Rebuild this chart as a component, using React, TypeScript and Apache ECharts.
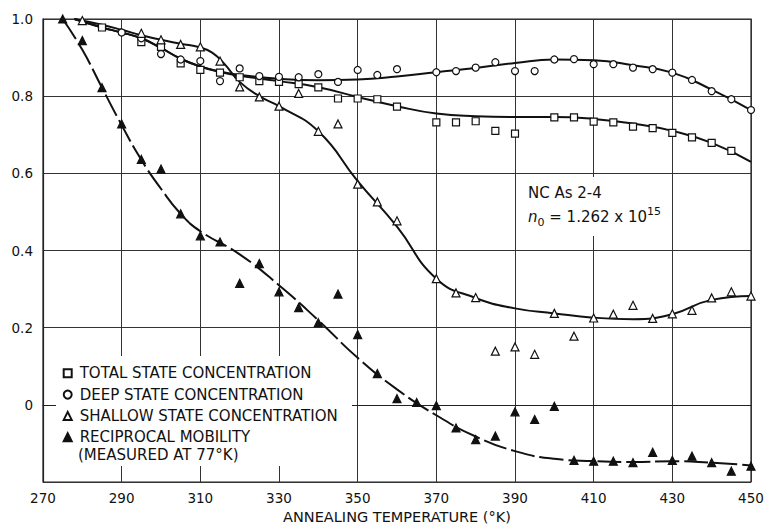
import React, { useEffect, useRef } from 'react';
import * as echarts from 'echarts';

// Annealing temperature axis (°K)
const xTicks = [270, 290, 310, 330, 350, 370, 390, 410, 430, 450];

// Measured points
const totalT = [285, 295, 300, 305, 310, 315, 320, 325, 330, 335, 340, 345, 350, 355, 360, 370, 375, 380, 385, 390, 400, 405, 410, 415, 420, 425, 430, 435, 440, 445];
const totalV = [0.978, 0.94, 0.928, 0.885, 0.868, 0.861, 0.849, 0.839, 0.837, 0.831, 0.823, 0.794, 0.794, 0.792, 0.773, 0.732, 0.732, 0.735, 0.71, 0.703, 0.745, 0.745, 0.734, 0.732, 0.721, 0.717, 0.705, 0.693, 0.679, 0.658];

const deepT = [290, 295, 300, 305, 310, 315, 320, 325, 330, 335, 340, 345, 350, 355, 360, 370, 375, 380, 385, 390, 395, 400, 405, 410, 415, 420, 425, 430, 435, 440, 445, 450];
const deepV = [0.965, 0.95, 0.909, 0.895, 0.891, 0.839, 0.872, 0.852, 0.85, 0.849, 0.857, 0.837, 0.868, 0.855, 0.87, 0.862, 0.865, 0.874, 0.888, 0.865, 0.865, 0.895, 0.896, 0.883, 0.883, 0.874, 0.87, 0.861, 0.842, 0.813, 0.792, 0.764];

const shallowT = [280, 295, 300, 305, 310, 315, 320, 325, 330, 335, 340, 345, 350, 355, 360, 370, 375, 380, 385, 390, 395, 400, 405, 410, 415, 420, 425, 430, 435, 440, 445, 450];
const shallowV = [0.996, 0.963, 0.946, 0.934, 0.928, 0.891, 0.824, 0.798, 0.774, 0.807, 0.709, 0.728, 0.572, 0.526, 0.477, 0.327, 0.29, 0.278, 0.139, 0.15, 0.131, 0.237, 0.178, 0.225, 0.235, 0.258, 0.224, 0.236, 0.245, 0.277, 0.293, 0.282];

const mobilityT = [275, 280, 285, 290, 295, 300, 305, 310, 315, 320, 325, 330, 335, 340, 345, 350, 355, 360, 365, 370, 375, 380, 385, 390, 395, 400, 405, 410, 415, 420, 425, 430, 435, 440, 445, 450];
const mobilityV = [1.0, 0.944, 0.822, 0.728, 0.636, 0.611, 0.495, 0.438, 0.422, 0.315, 0.366, 0.293, 0.252, 0.213, 0.287, 0.182, 0.081, 0.016, 0.006, -0.002, -0.06, -0.09, -0.081, -0.018, -0.038, -0.004, -0.144, -0.146, -0.146, -0.15, -0.123, -0.144, -0.133, -0.15, -0.172, -0.159];

// Fitted curves
const totalFitT = [278, 285, 290, 295, 300, 305, 310, 315, 320, 330, 340, 350, 360, 370, 380, 390, 400, 410, 420, 430, 440, 450];
const totalFitV = [1.0, 0.978, 0.965, 0.95, 0.925, 0.897, 0.877, 0.863, 0.853, 0.839, 0.823, 0.798, 0.774, 0.755, 0.748, 0.746, 0.746, 0.741, 0.729, 0.71, 0.679, 0.63];

const deepFitT = [278, 285, 290, 295, 300, 305, 310, 315, 320, 330, 340, 350, 360, 370, 380, 390, 400, 410, 420, 430, 440, 450];
const deepFitV = [1.0, 0.978, 0.965, 0.95, 0.925, 0.897, 0.877, 0.864, 0.855, 0.845, 0.841, 0.843, 0.851, 0.862, 0.873, 0.886, 0.895, 0.893, 0.88, 0.861, 0.817, 0.764];

const shallowFitT = [278, 285, 290, 295, 300, 305, 310, 313, 316, 320, 325, 330, 340, 350, 360, 370, 380, 390, 400, 410, 420, 430, 440, 450];
const shallowFitV = [1.0, 0.985, 0.972, 0.958, 0.946, 0.936, 0.926, 0.913, 0.885, 0.837, 0.8, 0.774, 0.709, 0.58, 0.462, 0.327, 0.277, 0.25, 0.237, 0.226, 0.222, 0.235, 0.272, 0.282];

const mobilityFitT = [275, 280, 285, 290, 295, 300, 305, 310, 320, 330, 340, 350, 360, 370, 380, 390, 400, 410, 420, 430, 440, 450];
const mobilityFitV = [1.0, 0.92, 0.822, 0.725, 0.635, 0.56, 0.495, 0.45, 0.39, 0.31, 0.219, 0.122, 0.04, -0.027, -0.082, -0.12, -0.14, -0.146, -0.148, -0.146, -0.15, -0.157];

const NAMES = {
  total: 'TOTAL STATE CONCENTRATION',
  deep: 'DEEP STATE CONCENTRATION',
  shallow: 'SHALLOW STATE CONCENTRATION',
  mobility: 'RECIPROCAL MOBILITY',
};

const INK = '#111';
const FONT = 'DejaVu Sans';

const pairs = (xs: number[], ys: number[]) => xs.map((x, i) => [x, ys[i]]);

const fitLine = (name: string, xs: number[], ys: number[], dashed = false) => ({
  name,
  type: 'line',
  data: pairs(xs, ys),
  showSymbol: false,
  symbol: 'none',
  smooth: 0.5,
  silent: true,
  z: 2,
  lineStyle: { color: INK, width: 2, type: dashed ? [24, 5] : 'solid' },
});

const points = (name: string, xs: number[], ys: number[], symbol: string, size: number, filled: boolean) => ({
  name,
  type: 'scatter',
  data: pairs(xs, ys),
  symbol,
  symbolSize: size,
  z: 3,
  itemStyle: {
    color: filled ? INK : '#fff',
    borderColor: INK,
    borderWidth: 1.2,
    opacity: 1,
  },
});

export default function App() {
  const ref = useRef<HTMLDivElement>(null);

  useEffect(() => {
    if (!ref.current) return;
    const chart = echarts.init(ref.current, undefined, { renderer: 'svg' });

    const option: any = {
      animation: false,
      backgroundColor: '#fff',
      textStyle: { fontFamily: FONT, color: INK },
      grid: {
        left: 43,
        right: 15,
        top: 19,
        bottom: 43,
        outerBoundsMode: 'none',
        containLabel: false,
        show: true,
        borderColor: '#222',
        borderWidth: 1.2,
        backgroundColor: 'transparent',
      },
      xAxis: {
        type: 'value',
        min: xTicks[0],
        max: xTicks[xTicks.length - 1],
        interval: 20,
        name: 'ANNEALING TEMPERATURE (°K)',
        nameLocation: 'middle',
        nameGap: 27,
        nameTextStyle: { fontFamily: FONT, fontSize: 14.5, color: INK },
        axisLine: { show: true, lineStyle: { color: '#222', width: 1.2 } },
        axisTick: { show: false },
        axisLabel: {
          fontFamily: FONT,
          fontSize: 13.5,
          color: INK,
          margin: 9,
          showMinLabel: true,
          showMaxLabel: true,
        },
        splitLine: { show: true, lineStyle: { color: '#333', width: 1 } },
      },
      yAxis: {
        type: 'value',
        min: -0.2,
        max: 1.0,
        interval: 0.2,
        axisLine: { show: true, lineStyle: { color: '#222', width: 1.2 } },
        axisTick: { show: false },
        axisLabel: {
          fontFamily: FONT,
          fontSize: 13.5,
          color: INK,
          margin: 10,
          formatter: (v: number) => (v < -0.01 ? '' : Math.abs(v) < 1e-9 ? '0' : v.toFixed(1)),
        },
        splitLine: { show: true, lineStyle: { color: '#333', width: 1 } },
      },
      legend: {
        data: [NAMES.total, NAMES.deep, NAMES.shallow, NAMES.mobility],
        orient: 'vertical',
        left: 62.7,
        top: 365.8,
        padding: 0,
        itemGap: 6.3,
        itemWidth: 8,
        itemHeight: 8,
        selectedMode: false,
        z: 5,
        textStyle: { fontFamily: FONT, fontSize: 15, color: INK, padding: [0, 0, 0, 3] },
      },
      graphic: {
        elements: [
          // white panel behind the key
          {
            type: 'rect',
            z: 1,
            silent: true,
            shape: { x: 56, y: 356, width: 296, height: 110 },
            style: { fill: '#fff' },
          },
          // white panel behind the sample note
          {
            type: 'rect',
            z: 1,
            silent: true,
            shape: { x: 521, y: 177, width: 146, height: 59 },
            style: { fill: '#fff' },
          },
          {
            type: 'text',
            z: 6,
            x: 78,
            y: 454.5,
            style: {
              text: '(MEASURED AT 77°K)',
              fontFamily: FONT,
              fontSize: 15,
              fill: INK,
              verticalAlign: 'middle',
            },
          },
          {
            type: 'text',
            z: 6,
            x: 528,
            y: 193,
            style: {
              text: 'NC As 2-4',
              fontFamily: FONT,
              fontSize: 15,
              fill: INK,
              verticalAlign: 'middle',
            },
          },
          {
            type: 'text',
            z: 6,
            x: 528,
            y: 217,
            style: {
              text: '{i|n}{sub|0}{b| = 1.262 x 10}{sup|15}',
              fontFamily: FONT,
              fontSize: 15,
              fill: INK,
              verticalAlign: 'middle',
              rich: {
                i: { fontFamily: FONT, fontSize: 15, fontStyle: 'italic', lineHeight: 22, verticalAlign: 'middle', fill: INK },
                b: { fontFamily: FONT, fontSize: 15, lineHeight: 22, verticalAlign: 'middle', fill: INK },
                sub: { fontFamily: FONT, fontSize: 11, lineHeight: 12, verticalAlign: 'bottom', fill: INK },
                sup: { fontFamily: FONT, fontSize: 11, lineHeight: 12, verticalAlign: 'top', fill: INK },
              },
            },
          },
        ],
      },
      series: [
        fitLine('total fit', totalFitT, totalFitV),
        fitLine('deep fit', deepFitT, deepFitV),
        fitLine('shallow fit', shallowFitT, shallowFitV),
        fitLine('mobility fit', mobilityFitT, mobilityFitV, true),
        points(NAMES.total, totalT, totalV, 'rect', 7, false),
        points(NAMES.deep, deepT, deepV, 'circle', 7, false),
        points(NAMES.shallow, shallowT, shallowV, 'triangle', 8, false),
        points(NAMES.mobility, mobilityT, mobilityV, 'triangle', 8, true),
      ],
    };

    chart.setOption(option);
    return () => chart.dispose();
  }, []);

  return (
    <div
      ref={ref}
      style={{ position: 'fixed', left: 0, top: 0, width: 766, height: 525, background: '#fff' }}
    />
  );
}
